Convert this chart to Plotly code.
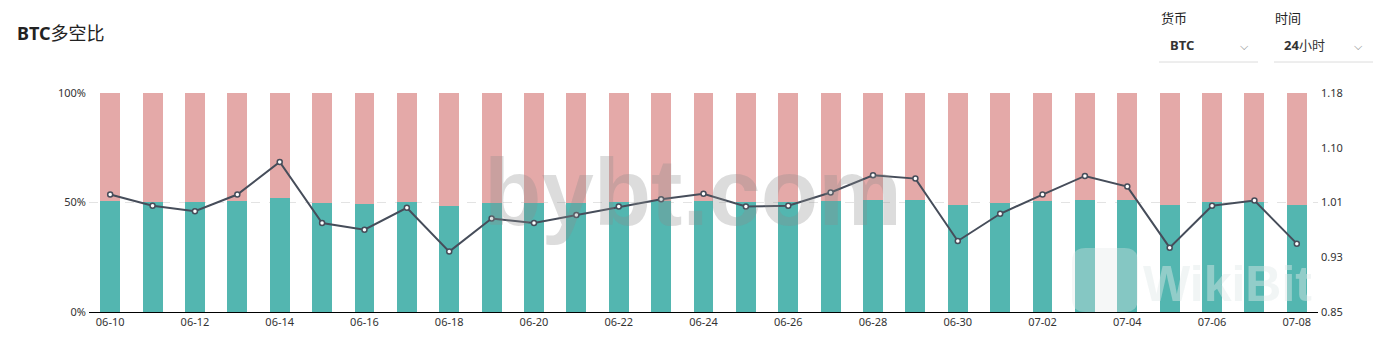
import plotly.graph_objects as go

dates = ["06-10","06-11","06-12","06-13","06-14","06-15","06-16","06-17","06-18","06-19",
         "06-20","06-21","06-22","06-23","06-24","06-25","06-26","06-27","06-28","06-29",
         "06-30","07-01","07-02","07-03","07-04","07-05","07-06","07-07","07-08"]
long_pct = [50.67,50.25,50.05,50.67,51.83,49.60,49.34,50.17,48.48,49.77,
            49.60,49.90,50.22,50.50,50.69,50.22,50.25,50.74,51.36,51.24,
            48.90,49.95,50.67,51.34,50.96,48.64,50.25,50.45,48.80]
short_pct = [49.33,49.75,49.95,49.33,48.17,50.40,50.66,49.83,51.52,50.23,
             50.40,50.10,49.78,49.50,49.31,49.78,49.75,49.26,48.64,48.76,
             51.10,50.05,49.33,48.66,49.04,51.36,49.75,49.55,51.20]
ratio = [1.027,1.010,1.002,1.027,1.076,0.984,0.974,1.007,0.941,0.991,
         0.984,0.996,1.009,1.020,1.028,1.009,1.010,1.030,1.056,1.051,
         0.957,0.998,1.027,1.055,1.039,0.947,1.010,1.018,0.953]
x_ticks = dates[::2]
left_ticks = [0, 50, 100]
left_text = ["0%", "50%", "100%"]
right_ticks = [0.85, 0.9325, 1.015, 1.0975, 1.18]
right_text = ["0.85", "0.93", "1.01", "1.10", "1.18"]

FONT = "Noto Sans, Noto Sans CJK SC, sans-serif"
GREEN = "#53b6b0"
PINK = "#e4a9a8"
LINE = "#464d5a"

W, H = 1391, 351
ml, mr, mt, mb = 89, 73, 93, 39
pw, ph = W - ml - mr, H - mt - mb

fig = go.Figure()
fig.add_trace(go.Bar(x=dates, y=long_pct, marker=dict(color=GREEN, line=dict(width=0)),
                     name="多", hoverinfo="skip"))
fig.add_trace(go.Bar(x=dates, y=short_pct, marker=dict(color=PINK, line=dict(width=0)),
                     name="空", hoverinfo="skip"))
fig.add_trace(go.Scatter(x=dates, y=ratio, yaxis="y2", mode="lines+markers",
                         line=dict(color=LINE, width=2),
                         marker=dict(size=5, color="white", line=dict(color=LINE, width=1.5)),
                         name="多空比"))

fig.update_layout(
    width=W, height=H,
    margin=dict(l=ml, r=mr, t=mt, b=mb),
    paper_bgcolor="white", plot_bgcolor="white",
    barmode="stack", bargap=0.53,
    showlegend=False,
    font=dict(family=FONT, size=11, color="#333"),
    xaxis=dict(type="category", range=[-0.5, len(dates) - 0.5], tickvals=x_ticks, ticktext=x_ticks,
               showline=True, linecolor="#000", linewidth=1,
               showgrid=False, ticks="", tickfont=dict(size=11, color="#333")),
    yaxis=dict(range=[0, 100], tickvals=left_ticks, ticktext=left_text,
               showgrid=True, gridcolor="#e3e3e3", griddash="dash", gridwidth=1,
               zeroline=False, ticks="", ticklabelstandoff=2,
               tickfont=dict(size=11, color="#333")),
    yaxis2=dict(range=[0.85, 1.18], tickvals=right_ticks, ticktext=right_text,
                overlaying="y", side="right", showgrid=False, zeroline=False,
                ticks="", ticklabelstandoff=2,
                tickfont=dict(size=11, color="#333")),
)

def px(x):
    return (x - ml) / pw

def py(y):
    return (H - mb - y) / ph

annotations = [
    dict(text="<b>bybt.com</b>", x=px(693), y=py(192), xref="paper", yref="paper",
         showarrow=False,
         font=dict(family="Liberation Sans, Arial", size=94, color="rgba(140,140,140,0.3)"),
         xanchor="center", yanchor="middle"),
    dict(text="<b>WikiBit</b>", x=px(1314), y=py(314), xref="paper", yref="paper",
         showarrow=False, font=dict(family="Liberation Sans, Arial", size=50, color="rgba(225,232,232,0.45)"),
         xanchor="right", yanchor="bottom"),
    dict(text="<b>BTC</b>多空比", x=px(15), y=py(33), xref="paper", yref="paper",
         showarrow=False, font=dict(family=FONT, size=18, color="#222"),
         xanchor="left", yanchor="middle"),
    dict(text="货币", x=px(1159), y=py(18), xref="paper", yref="paper", showarrow=False,
         font=dict(family=FONT, size=13, color="#222"), xanchor="left", yanchor="middle"),
    dict(text="<b>BTC</b>", x=px(1168), y=py(45), xref="paper", yref="paper", showarrow=False,
         font=dict(family=FONT, size=13, color="#333"), xanchor="left", yanchor="middle"),
    dict(text="⌵", x=px(1244), y=py(45), xref="paper", yref="paper", showarrow=False,
         font=dict(family=FONT, size=11, color="#888"), xanchor="center", yanchor="middle"),
    dict(text="时间", x=px(1273), y=py(18), xref="paper", yref="paper", showarrow=False,
         font=dict(family=FONT, size=13, color="#222"), xanchor="left", yanchor="middle"),
    dict(text="<b>24</b>小时", x=px(1282), y=py(45), xref="paper", yref="paper", showarrow=False,
         font=dict(family=FONT, size=13, color="#333"), xanchor="left", yanchor="middle"),
    dict(text="⌵", x=px(1358), y=py(45), xref="paper", yref="paper", showarrow=False,
         font=dict(family=FONT, size=11, color="#888"), xanchor="center", yanchor="middle"),
]
fig.update_layout(annotations=annotations)

# rounded-square logo for the faint WikiBit watermark
x0, x1, y0, y1, r = px(1072), px(1138), py(312), py(248), 0.011
ry = r * pw / ph
logo_path = (f"M {x0 + r},{y0} L {x1 - r},{y0} Q {x1},{y0} {x1},{y0 + ry} "
             f"L {x1},{y1 - ry} Q {x1},{y1} {x1 - r},{y1} L {x0 + r},{y1} "
             f"Q {x0},{y1} {x0},{y1 - ry} L {x0},{y0 + ry} Q {x0},{y0} {x0 + r},{y0} Z")

fig.update_layout(shapes=[
    dict(type="line", xref="paper", yref="paper",
         x0=px(1159), x1=px(1258), y0=py(62), y1=py(62),
         line=dict(color="#dcdcdc", width=1)),
    dict(type="line", xref="paper", yref="paper",
         x0=px(1274), x1=px(1373), y0=py(62), y1=py(62),
         line=dict(color="#dcdcdc", width=1)),
    dict(type="path", xref="paper", yref="paper", path=logo_path,
         fillcolor="rgba(225,232,232,0.35)", line=dict(width=0), layer="above"),
])

fig.write_html("out.html")
